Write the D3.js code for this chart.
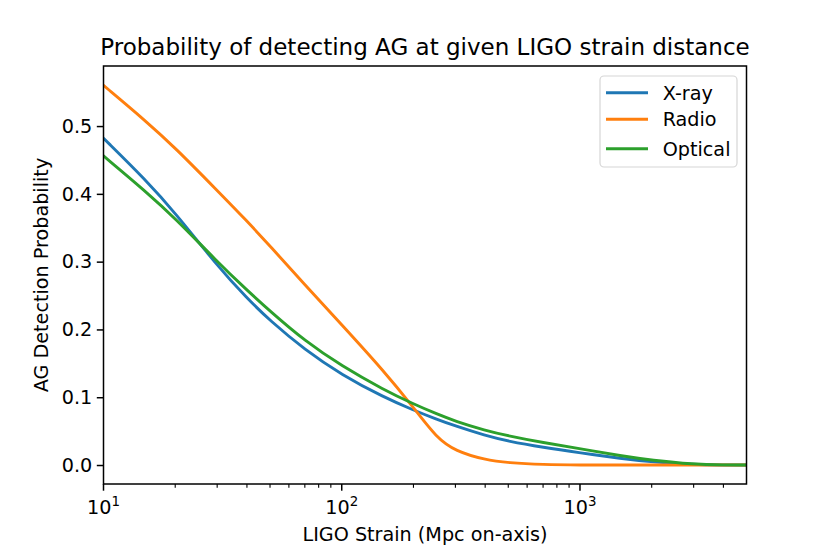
<!DOCTYPE html>
<html>
<head>
    <meta charset="UTF-8">
    <style>
        *{
            margin: 0;
            padding: 0;
        }
        body{
            background-color: #fff;
        }
        #chart{
            background-color: #fff;
            font-family: "DejaVu Sans", sans-serif;
        }
        .title {
            fill: black;
        }
    </style>
    <script src="https://d3js.org/d3.v7.min.js"></script>
    <title>AG detection probability</title>
</head>

<body>
<svg id="chart" width="830" height="554"></svg>
<script>
    // LIGO strain distance (Mpc on-axis)
    var strain = [10, 15, 20, 30, 40, 50, 70, 100, 150, 200, 250, 300, 400, 500, 700, 1000, 1500, 2000, 3000, 4000, 5000];
    var xray   = [0.482, 0.421, 0.372, 0.294, 0.246, 0.213, 0.170, 0.133, 0.100, 0.081, 0.0675, 0.0575, 0.0435, 0.035, 0.026, 0.018, 0.0094, 0.0045, 0.0005, 0, 0];
    var radio  = [0.560, 0.508, 0.468, 0.405, 0.360, 0.323, 0.266, 0.207, 0.139, 0.085, 0.040, 0.0205, 0.0075, 0.0032, 0.0006, 0, 0, 0, 0, 0, 0];
    var optical= [0.456, 0.404, 0.364, 0.300, 0.258, 0.227, 0.183, 0.146, 0.111, 0.090, 0.0755, 0.0645, 0.051, 0.043, 0.033, 0.024, 0.0133, 0.007, 0.001, 0, 0];
    var seriesNames = ["X-ray", "Radio", "Optical"];
    var colors = ["#1f77b4", "#ff7f0e", "#2ca02c"];
    var yTicks = [0.0, 0.1, 0.2, 0.3, 0.4, 0.5];
    var xMajor = [10, 100, 1000];

    var svg = d3.select("#chart");
    var mLeft = 103.5, mRight = 746.5, mTop = 66, mBottom = 484;
    var fs = "19.2px";

    var x = d3.scaleLog().domain([10, 5000]).range([mLeft, mRight]);
    var y = d3.scaleLinear().domain([-0.028, 0.5886]).range([mBottom, mTop]);

    var series = [xray, radio, optical];

    var line = d3.line()
        .x(function(d, i) { return x(strain[i]); })
        .y(function(d) { return y(d); })
        .curve(d3.curveBasis);

    svg.append("clipPath").attr("id", "clip")
        .append("rect").attr("x", mLeft).attr("y", mTop)
        .attr("width", mRight - mLeft).attr("height", mBottom - mTop);

    svg.selectAll(".curve")
        .data(series)
        .enter()
        .append("path")
        .attr("class", "curve")
        .attr("clip-path", "url(#clip)")
        .attr("fill", "none")
        .attr("stroke", function(d, i) { return colors[i]; })
        .attr("stroke-width", 2.9)
        .attr("stroke-linecap", "square")
        .attr("d", line);

    // y axis
    var yAxis = svg.append("g")
        .attr("transform", "translate(" + mLeft + ",0)")
        .call(d3.axisLeft(y).tickValues(yTicks).tickFormat(d3.format(".1f")).tickSize(6.7).tickPadding(4.5));
    yAxis.select(".domain").remove();
    yAxis.selectAll("line").attr("stroke-width", 1.5);
    yAxis.selectAll("text").attr("font-size", fs).attr("font-family", "DejaVu Sans").attr("fill", "#000");

    // x axis (log)
    var minor = [];
    [10, 100, 1000].forEach(function(b) {
        for (var k = 2; k <= 9; k++) if (b * k < 5000) minor.push(b * k);
    });
    var xg = svg.append("g").attr("transform", "translate(0," + mBottom + ")");
    xg.selectAll(".minor").data(minor).enter().append("line")
        .attr("x1", function(d) { return x(d); }).attr("x2", function(d) { return x(d); })
        .attr("y1", 0).attr("y2", 3.8)
        .attr("stroke", "#000").attr("stroke-width", 1.1);
    xg.selectAll(".major").data(xMajor).enter().append("line")
        .attr("x1", function(d) { return x(d); }).attr("x2", function(d) { return x(d); })
        .attr("y1", 0).attr("y2", 6.7)
        .attr("stroke", "#000").attr("stroke-width", 1.5);
    var lbl = xg.selectAll(".xl").data(xMajor).enter().append("text")
        .attr("x", function(d) { return x(d); })
        .attr("y", 29.5)
        .attr("text-anchor", "middle")
        .attr("font-size", fs);
    lbl.append("tspan").text("10");
    lbl.append("tspan").attr("dy", -8).attr("font-size", "13.4px")
        .text(function(d) { return Math.round(Math.log10(d)); });

    // spines
    svg.append("rect")
        .attr("x", mLeft).attr("y", mTop)
        .attr("width", mRight - mLeft).attr("height", mBottom - mTop)
        .attr("fill", "none").attr("stroke", "#000").attr("stroke-width", 1.5);

    // labels
    svg.append("text")
        .attr("class", "title")
        .attr("x", (mLeft + mRight) / 2).attr("y", 54.5)
        .attr("text-anchor", "middle")
        .attr("font-size", "23px")
        .text("Probability of detecting AG at given LIGO strain distance");

    svg.append("text")
        .attr("x", (mLeft + mRight) / 2).attr("y", 541)
        .attr("text-anchor", "middle")
        .attr("font-size", fs)
        .text("LIGO Strain (Mpc on-axis)");

    svg.append("text")
        .attr("transform", "translate(48," + (mTop + mBottom) / 2 + ") rotate(-90)")
        .attr("text-anchor", "middle")
        .attr("font-size", fs)
        .text("AG Detection Probability");

    // legend
    var lg = svg.append("g");
    lg.append("rect")
        .attr("x", 600).attr("y", 76).attr("width", 137).attr("height", 91)
        .attr("rx", 4).attr("fill", "#fff").attr("fill-opacity", 0.8)
        .attr("stroke", "#d6d6d6").attr("stroke-width", 1.2);
    var rows = [92.7, 119.3, 148.7];
    seriesNames.forEach(function(name, i) {
        lg.append("line")
            .attr("x1", 606).attr("x2", 648)
            .attr("y1", rows[i]).attr("y2", rows[i])
            .attr("stroke", colors[i]).attr("stroke-width", 2.9);
        lg.append("text")
            .attr("x", 662.7).attr("y", rows[i] + 6.8)
            .attr("font-size", fs)
            .text(name);
    });
</script>
</body>
</html>
